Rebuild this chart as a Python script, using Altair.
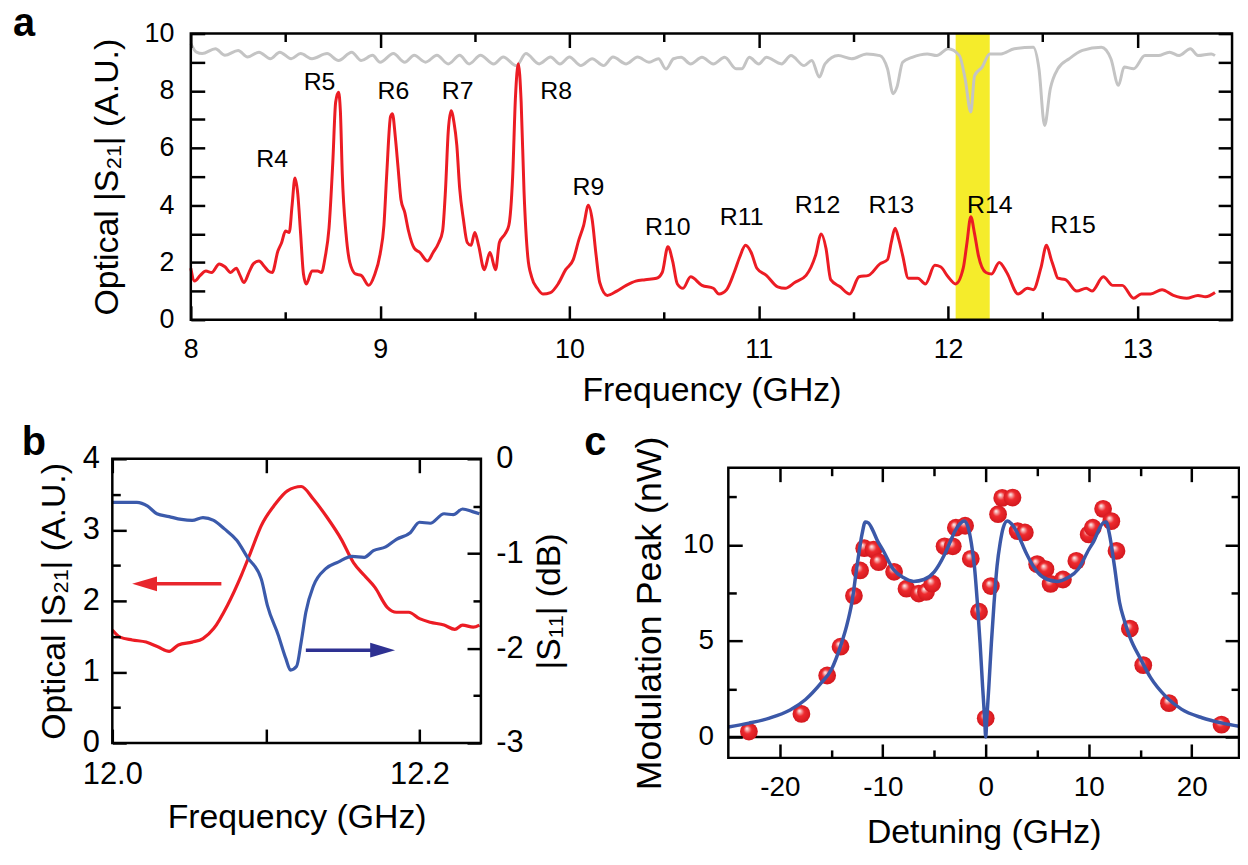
import altair as alt
import pandas as pd

FONT = "Liberation Sans"
RED = "#ec1c24"
GRAY = "#c4c4c4"
YELLOW = "#f5ec2b"
BLUE_B = "#3b5aab"
BLUE_C = "#3b58a8"
NAVY = "#2e3192"

# ---------------- Panel a data ----------------
a_red_f = [8.00, 8.02, 8.05, 8.08, 8.11, 8.15, 8.18, 8.21, 8.24, 8.26, 8.28, 8.31, 8.33, 8.36, 8.39,
           8.41, 8.43, 8.46, 8.48, 8.50, 8.52, 8.535, 8.55, 8.565, 8.58, 8.595, 8.61, 8.64, 8.67, 8.69,
           8.71, 8.73, 8.75, 8.765, 8.78, 8.79, 8.80, 8.82, 8.84, 8.87, 8.90, 8.94, 8.97, 9.00, 9.02,
           9.035, 9.055, 9.065, 9.08, 9.095, 9.11, 9.13, 9.15, 9.18, 9.21, 9.25, 9.28, 9.31, 9.33, 9.345,
           9.36, 9.375, 9.39, 9.405, 9.42, 9.44, 9.46, 9.48, 9.50, 9.52, 9.55, 9.58, 9.61, 9.63, 9.66,
           9.68, 9.70, 9.715, 9.73, 9.745, 9.76, 9.78, 9.80, 9.83, 9.86, 9.90, 9.94, 9.98, 10.02, 10.05,
           10.075, 10.10, 10.12, 10.14, 10.16, 10.20, 10.25, 10.30, 10.35, 10.40, 10.46, 10.49, 10.52, 10.545, 10.57,
           10.60, 10.64, 10.70, 10.76, 10.79, 10.83, 10.87, 10.90, 10.93, 10.96, 10.99, 11.04, 11.10, 11.14, 11.19,
           11.25, 11.30, 11.33, 11.355, 11.38, 11.43, 11.48, 11.53, 11.58, 11.64, 11.68, 11.70, 11.72, 11.74, 11.76,
           11.79, 11.84, 11.88, 11.93, 11.96, 12.00, 12.04, 12.08, 12.10, 12.12, 12.14, 12.16, 12.20, 12.23, 12.27,
           12.31, 12.37, 12.42, 12.45, 12.49, 12.52, 12.545, 12.56, 12.58, 12.62, 12.68, 12.73, 12.76, 12.82, 12.87,
           12.92, 12.98, 13.02, 13.07, 13.13, 13.19, 13.26, 13.32, 13.36, 13.41]
a_red_v = [1.8, 1.35, 1.55, 1.7, 1.65, 1.95, 1.85, 1.65, 1.8, 1.55, 1.3, 1.7, 1.95, 2.05, 1.85,
           1.7, 1.65, 2.4, 2.7, 3.1, 3.05, 4.0, 4.95, 4.4, 3.0, 1.6, 1.25, 1.7, 1.7, 1.65,
           2.2, 3.2, 5.5, 7.6, 7.95, 7.3, 5.1, 3.0, 2.0, 1.6, 1.55, 1.2, 1.55, 2.3, 3.3,
           5.1, 7.1, 7.2, 6.4, 5.3, 4.2, 3.75, 3.1, 2.5, 2.35, 2.05, 2.35, 2.7, 3.1, 4.5,
           6.6, 7.3, 6.9, 6.1, 4.6, 3.5, 2.7, 2.6, 3.05, 2.6, 1.75, 2.35, 1.75, 2.7, 3.0,
           3.3, 5.0, 7.8, 8.95, 7.6, 4.5, 2.2, 1.5, 1.1, 0.9, 0.95, 1.25, 1.75, 2.1, 2.8,
           3.3, 4.0, 3.5, 2.3, 1.3, 0.85, 1.0, 1.2, 1.35, 1.4, 1.45, 1.65, 2.55, 2.05, 1.25,
           1.1, 1.5, 1.2, 1.1, 0.9, 1.05, 1.65, 2.2, 2.6, 2.35, 1.8, 1.55, 1.15, 1.1, 1.3,
           1.55, 2.25, 3.0, 2.5, 1.4, 1.15, 0.9, 1.5, 1.55, 1.95, 2.1, 2.7, 3.2, 2.8, 2.25,
           1.45, 1.45, 1.25, 1.9, 1.85, 1.5, 1.25, 1.8, 2.7, 3.6, 3.0, 2.25, 1.65, 1.6, 2.0,
           1.65, 0.9, 1.1, 1.05, 1.8, 2.6, 2.1, 1.8, 1.45, 1.4, 1.0, 1.1, 1.0, 1.5, 1.2,
           1.2, 0.75, 0.9, 0.9, 1.05, 0.85, 0.75, 0.85, 0.8, 0.95]

a_gray_f = [8.0, 8.03, 8.06, 8.13, 8.18, 8.25, 8.3, 8.36, 8.42, 8.47, 8.53, 8.58, 8.64, 8.72, 8.78,
            8.85, 8.9, 8.96, 9.0, 9.07, 9.13, 9.18, 9.24, 9.3, 9.36, 9.42, 9.47, 9.53, 9.6, 9.65,
            9.72, 9.77, 9.84, 9.9, 9.95, 10.0, 10.06, 10.12, 10.18, 10.23, 10.3, 10.36, 10.42, 10.47, 10.51,
            10.55, 10.59, 10.64, 10.7, 10.76, 10.82, 10.88, 10.91, 10.95, 11.0, 11.04, 11.12, 11.17, 11.24, 11.28,
            11.32, 11.35, 11.42, 11.49, 11.57, 11.64, 11.68, 11.71, 11.73, 11.76, 11.81, 11.89, 11.94, 12.0, 12.06,
            12.09, 12.12, 12.14, 12.18, 12.22, 12.28, 12.35, 12.45, 12.48, 12.51, 12.54, 12.58, 12.64, 12.71, 12.81,
            12.86, 12.9, 12.93, 12.98, 13.04, 13.11, 13.17, 13.22, 13.28, 13.32, 13.39, 13.41]
a_gray_v = [9.65, 9.35, 9.3, 9.47, 9.24, 9.41, 9.18, 9.35, 9.12, 9.35, 9.12, 9.3, 9.12, 9.3, 9.06,
            9.35, 9.06, 9.24, 9.0, 9.3, 9.0, 9.24, 9.0, 9.24, 8.94, 9.24, 8.94, 9.24, 8.94, 9.18,
            8.88, 9.3, 8.94, 9.18, 8.94, 9.18, 8.88, 9.12, 8.88, 9.18, 8.94, 9.18, 9.0, 9.12, 8.76,
            9.12, 9.17, 8.94, 9.17, 8.94, 9.17, 8.77, 8.77, 9.17, 8.94, 9.17, 8.94, 9.23, 8.88, 9.06,
            8.48, 8.94, 9.23, 9.12, 9.29, 9.23, 8.77, 7.9, 8.13, 9.0, 9.17, 9.29, 9.23, 9.47, 9.23,
            8.42, 7.26, 8.53, 8.83, 9.29, 9.29, 9.47, 9.52, 8.77, 6.79, 8.07, 8.77, 9.12, 9.41, 9.52,
            9.12, 8.19, 8.83, 8.77, 9.23, 9.23, 9.35, 9.23, 9.47, 9.23, 9.29, 9.23]

a_dom_f = [8, 13.5]
a_dom_v = [0, 10]
a_band_f = [12.04, 12.22]
a_lab_text = ["R4", "R5", "R6", "R7", "R8", "R9", "R10", "R11", "R12", "R13", "R14", "R15"]
a_lab_f = [8.43, 8.68, 9.07, 9.41, 9.93, 10.10, 10.52, 10.91, 11.31, 11.70, 12.22, 12.66]
a_lab_v = [5.6, 8.3, 8.0, 8.0, 8.0, 4.65, 3.25, 3.6, 4.0, 4.0, 4.0, 3.3]
a_letter = {"t": "a", "f": 7.061, "v": 9.93}
a_xt_major = [8, 9, 10, 11, 12, 13]
a_xt_minor = [8.5, 9.5, 10.5, 11.5, 12.5]
a_yt = [0, 1, 2, 3, 4, 5, 6, 7, 8, 9, 10]

# ---------------- Panel b data ----------------
b_red_f = [12.0, 12.005, 12.013, 12.022, 12.03, 12.037, 12.043, 12.052, 12.059, 12.066, 12.075, 12.084,
           12.09, 12.097, 12.106, 12.114, 12.123, 12.131, 12.14, 12.149, 12.157, 12.164, 12.171, 12.179,
           12.185, 12.193, 12.2, 12.207, 12.216, 12.223, 12.228, 12.235, 12.239]
b_red_v = [1.59, 1.49, 1.45, 1.42, 1.35, 1.29, 1.38, 1.42, 1.47, 1.61, 1.94, 2.36,
           2.68, 3.06, 3.36, 3.55, 3.61, 3.43, 3.17, 2.87, 2.54, 2.36, 2.19, 1.91,
           1.84, 1.84, 1.75, 1.70, 1.66, 1.60, 1.66, 1.63, 1.66]
b_blue_f = [12.0, 12.016, 12.023, 12.029, 12.037, 12.045, 12.052, 12.059, 12.066, 12.073, 12.081, 12.088,
            12.097, 12.101, 12.108, 12.113, 12.116, 12.12, 12.123, 12.126, 12.131, 12.139, 12.147, 12.156,
            12.164, 12.17, 12.178, 12.185, 12.194, 12.2, 12.207, 12.216, 12.222, 12.228, 12.235, 12.239]
b_blue_v = [-0.46, -0.46, -0.50, -0.58, -0.61, -0.64, -0.65, -0.62, -0.65, -0.74, -0.86, -1.04,
            -1.27, -1.55, -1.86, -2.11, -2.23, -2.19, -1.93, -1.62, -1.34, -1.16, -1.09, -1.03,
            -1.04, -0.97, -0.93, -0.85, -0.78, -0.67, -0.68, -0.58, -0.59, -0.53, -0.56, -0.58]
b_dom_f = [12.0, 12.24]
b_dom_l = [0, 4]
b_dom_r = [-3, 0]
b_arrow_red = {"tail": 12.071, "head": 12.021, "y": 2.24}     # left-axis units
b_arrow_blue = {"tail": 12.126, "head": 12.176, "y": -2.02}   # right-axis units
b_letter = {"t": "b", "f": 11.9411, "v": 4.056}
b_xt = [12.0, 12.1, 12.2]
b_yl_major = [0, 1, 2, 3, 4]
b_yl_minor = [0.5, 1.5, 2.5, 3.5]
b_yr_major = [0, -1, -2, -3]
b_yr_minor = [-0.5, -1.5, -2.5]

# ---------------- Panel c data ----------------
c_dot_x = [-23.0, -17.9, -15.4, -14.1, -12.8, -12.2, -11.8, -10.9, -10.4, -8.9, -7.7, -6.5, -5.8, -5.2,
           -4.0, -3.2, -2.9, -2.0, -1.45, -0.65, 0.0, 0.5, 1.2, 1.6, 2.6, 3.1, 3.8, 5.0, 5.8, 6.3,
           7.5, 8.8, 10.0, 10.4, 11.4, 12.2, 12.7, 14.0, 15.3, 17.8, 22.9]
c_dot_y = [0.28, 1.2, 3.2, 4.7, 7.35, 8.67, 9.83, 9.76, 9.1, 8.6, 7.72, 7.47, 7.55, 7.98,
           9.93, 9.93, 10.9, 11.0, 9.28, 6.52, 0.97, 7.86, 11.6, 12.45, 12.47, 10.72, 10.65, 9.0, 8.74, 7.97,
           8.2, 9.17, 10.55, 10.9, 11.88, 11.24, 9.69, 5.64, 3.74, 1.76, 0.64]
c_fit_x = [-25, -23, -21, -19, -17.5, -16, -15, -14, -13.5, -13, -12.5, -12, -11.7, -11.4, -11, -10.5,
           -10, -9, -8, -7, -6, -5, -4, -3.5, -3, -2.5, -2.1, -1.7, -1.4, -1.1, -0.8, -0.55, -0.3, -0.1,
           0, 0.1, 0.3, 0.55, 0.8, 1.1, 1.4, 1.7, 2.1, 2.5, 3, 3.5, 4, 5, 6, 7, 8, 9, 10, 10.5, 11,
           11.4, 11.7, 12, 12.5, 13, 13.5, 14, 15, 16, 17.5, 19, 21, 23, 24.6]
c_fit_y = [0.52, 0.72, 0.98, 1.4, 1.95, 2.8, 3.5, 4.9, 5.8, 7.0, 8.9, 10.6, 11.2, 11.15, 10.8, 10.2,
           9.75, 8.75, 8.3, 8.1, 8.2, 8.6, 9.5, 10.1, 10.7, 11.1, 11.25, 10.9, 10.1, 8.9, 6.9, 4.9, 2.6, 0.9,
           0.0, 0.9, 2.6, 4.9, 6.9, 8.9, 10.1, 10.9, 11.25, 11.1, 10.7, 10.1, 9.5, 8.6, 8.2, 8.1, 8.3, 8.75, 9.75, 10.2, 10.8,
           11.15, 11.2, 10.6, 8.9, 7.0, 6.0, 5.2, 4.1, 3.1, 2.1, 1.45, 1.0, 0.72, 0.56]
c_dom_x = [-25, 24.6]
c_dom_y = [-1.09, 14.02]
c_letter = {"t": "c", "x": -38.99, "y": 14.70}
c_xt_major = [-20, -10, 0, 10, 20]
c_xt_minor = [-15, -5, 5, 15]
c_yt_major = [0, 5, 10]
c_yt_minor = [2.5, 7.5, 12.5]

# ---------------- layout (pixels inside the single view) ----------------
W, H = 1240, 845
MAJ, MIN = 14, 8
A_X, A_Y = [184, 1232], [311, 23]
B_X, B_Y = [105, 476], [737, 451]
C_X, C_Y = [725, 1239], [752, 460]


def axis(orient, box, values, size=MAJ, label_expr=None, label_size=27, label_pad=16,
         title=None, title_size=34, title_pad=10, **extra):
    px, py = box
    off = {"bottom": (py[0] - size) - H, "top": -(py[1] + size),
           "left": -(px[0] + size), "right": (px[1] - size) - W}[orient]
    kw = dict(orient=orient, values=values, tickSize=size, offset=off, ticks=True,
              domain=False, grid=False, labelFlush=False, labelOverlap=False,
              tickWidth=2.5, tickColor="black", tickOpacity=1, zindex=2)
    if label_expr is not None:
        kw.update(labels=True, labelExpr=label_expr, labelFontSize=label_size,
                  labelPadding=label_pad + (MAJ - size), labelFont=FONT, labelColor="black")
    else:
        kw.update(labels=False)
    if title is not None:
        kw.update(title=title, titleFontSize=title_size, titlePadding=title_pad,
                  titleFont=FONT, titleFontWeight="normal", titleColor="black")
    else:
        kw.update(title=None)
    kw.update(extra)
    return alt.Axis(**kw)


def sc(domain, rng):
    return alt.Scale(domain=domain, range=rng, nice=False, zero=False)


def X(field, scale, ax=None):
    return alt.X(field, scale=scale, axis=ax)


def Y(field, scale, ax=None):
    return alt.Y(field, scale=scale, axis=ax)


def frame(dx, dy, xs, ys, xax=None, yax=None):
    df = pd.DataFrame({"x0": [dx[0]], "x1": [dx[1]], "y0": [dy[0]], "y1": [dy[1]]})
    return alt.Chart(df).mark_rect(fillOpacity=0, stroke="black", strokeWidth=2.5).encode(
        x=X("x0:Q", xs, xax), x2="x1:Q", y=Y("y0:Q", ys, yax), y2="y1:Q")


def letter(d, xf, yf, xs, ys):
    df = pd.DataFrame({"t": [d["t"]], "x": [d[xf]], "y": [d[yf]]})
    return alt.Chart(df).mark_text(fontSize=40, fontWeight="bold", font=FONT, align="left",
                                   baseline="alphabetic", color="black").encode(
        x=X("x:Q", xs), y=Y("y:Q", ys), text="t:N")


layers = []
BOX_A, BOX_B, BOX_C = (A_X, A_Y), (B_X, B_Y), (C_X, C_Y)

# ---------------- Panel a ----------------
xa = sc(a_dom_f, A_X)
ya = sc(a_dom_v, A_Y)
layers.append(alt.Chart(pd.DataFrame({"f0": [a_band_f[0]], "f1": [a_band_f[1]],
                                      "v0": [a_dom_v[0]], "v1": [a_dom_v[1]]})).mark_rect(
    color=YELLOW, opacity=1).encode(
    x=X("f0:Q", xa, axis("top", BOX_A, a_xt_minor, size=MIN)), x2="f1:Q",
    y=Y("v0:Q", ya), y2="v1:Q"))
layers.append(alt.Chart(pd.DataFrame({"f": a_gray_f, "v": a_gray_v})).mark_line(
    color=GRAY, strokeWidth=3, interpolate="monotone").encode(
    x=X("f:Q", xa, axis("top", BOX_A, a_xt_major)),
    y=Y("v:Q", ya, axis("right", BOX_A, a_yt))))
layers.append(alt.Chart(pd.DataFrame({"f": a_red_f, "v": a_red_v})).mark_line(
    color=RED, strokeWidth=3, interpolate="monotone").encode(
    x=X("f:Q", xa, axis("bottom", BOX_A, a_xt_major, label_expr="'' + datum.value",
                        label_size=27, label_pad=17, title="Frequency (GHz)", title_pad=11)),
    y=Y("v:Q", ya, axis("left", BOX_A, a_yt,
                        label_expr="datum.value % 2 === 0 ? '' + datum.value : ''",
                        label_size=27, label_pad=17, title="Optical |S₂₁| (A.U.)",
                        title_pad=20))))
layers.append(alt.Chart(pd.DataFrame({"t": a_lab_text, "f": a_lab_f, "v": a_lab_v})).mark_text(
    fontSize=25, font=FONT, color="black").encode(x=X("f:Q", xa), y=Y("v:Q", ya), text="t:N"))
layers.append(frame(a_dom_f, a_dom_v, xa, ya,
                    xax=axis("bottom", BOX_A, a_xt_minor, size=MIN)))
layers.append(letter(a_letter, "f", "v", xa, ya))

# ---------------- Panel b ----------------
xb = sc(b_dom_f, B_X)
ybl = sc(b_dom_l, B_Y)
ybr = sc(b_dom_r, B_Y)
layers.append(alt.Chart(pd.DataFrame({"f": b_red_f, "v": b_red_v})).mark_line(
    color=RED, strokeWidth=3.2, interpolate="monotone").encode(
    x=X("f:Q", xb, axis("bottom", BOX_B, b_xt,
                        label_expr="datum.value === 12.1 ? '' : format(datum.value, '.1f')",
                        label_size=31, label_pad=17, title="Frequency (GHz)", title_pad=11)),
    y=Y("v:Q", ybl, axis("left", BOX_B, b_yl_major, label_expr="'' + datum.value",
                         label_size=31, label_pad=13, title="Optical |S₂₁| (A.U.)",
                         title_pad=11))))
layers.append(alt.Chart(pd.DataFrame({"f": b_blue_f, "v": b_blue_v})).mark_line(
    color=BLUE_B, strokeWidth=3.2, interpolate="monotone").encode(
    x=X("f:Q", xb, axis("top", BOX_B, b_xt)),
    y=Y("v:Q", ybr, axis("right", BOX_B, b_yr_major, label_expr="'' + datum.value",
                         label_size=31, label_pad=15, title="|S₁₁| (dB)", title_pad=10,
                         titleAngle=270, titleBaseline="top"))))

for d, color, shape, ys, yax in [
        (b_arrow_red, "#e8262d", "M-1,0L1,-0.6L1,0.6Z", ybl, None),
        (b_arrow_blue, NAVY, "M1,0L-1,-0.6L-1,0.6Z", ybr,
         axis("right", BOX_B, b_yr_minor, size=MIN))]:
    df = pd.DataFrame({"t": [d["tail"]], "h": [d["head"]], "y": [d["y"]]})
    layers.append(alt.Chart(df).mark_rule(color=color, strokeWidth=3.5).encode(
        x=X("t:Q", xb), x2="h:Q", y=Y("y:Q", ys, yax)))
    layers.append(alt.Chart(df).mark_point(shape=shape, filled=True, size=625, color=color,
                                           opacity=1, strokeWidth=0).encode(
        x=X("h:Q", xb), y=Y("y:Q", ys)))
layers.append(frame(b_dom_f, b_dom_l, xb, ybl,
                    yax=axis("left", BOX_B, b_yl_minor, size=MIN)))
layers.append(letter(b_letter, "f", "v", xb, ybl))

# ---------------- Panel c ----------------
xc = sc(c_dom_x, C_X)
yc = sc(c_dom_y, C_Y)
sphere = alt.RadialGradient(
    gradient="radial", x1=0.38, y1=0.32, r1=0.0, x2=0.5, y2=0.5, r2=0.55,
    stops=[alt.GradientStop(offset=0.0, color="#ffffff"),
           alt.GradientStop(offset=0.15, color="#f6b3b3"),
           alt.GradientStop(offset=0.42, color="#ee2a2e"),
           alt.GradientStop(offset=1.0, color="#cf151c")])
layers.append(alt.Chart(pd.DataFrame({"x0": [c_dom_x[0]], "x1": [c_dom_x[1]], "z": [0]})).mark_rule(
    color="black", strokeWidth=2.5).encode(
    x=X("x0:Q", xc, axis("top", BOX_C, c_xt_minor, size=MIN)), x2="x1:Q",
    y=Y("z:Q", yc, axis("right", BOX_C, c_yt_minor, size=MIN))))
layers.append(alt.Chart(pd.DataFrame({"x": c_dot_x, "y": c_dot_y})).mark_circle(
    size=320, opacity=1, fill=sphere).encode(
    x=X("x:Q", xc, axis("bottom", BOX_C, c_xt_major, label_expr="'' + datum.value",
                        label_size=28, label_pad=16, title="Detuning (GHz)", title_pad=14)),
    y=Y("y:Q", yc, axis("left", BOX_C, c_yt_major, label_expr="'' + datum.value",
                        label_size=28, label_pad=15, title="Modulation Peak (nW)",
                        title_size=36, title_pad=14))))
layers.append(alt.Chart(pd.DataFrame({"x": c_fit_x, "y": c_fit_y})).mark_line(
    color=BLUE_C, strokeWidth=3.5, interpolate="monotone").encode(
    x=X("x:Q", xc, axis("top", BOX_C, c_xt_major)),
    y=Y("y:Q", yc, axis("right", BOX_C, c_yt_major))))
layers.append(frame(c_dom_x, c_dom_y, xc, yc,
                    xax=axis("bottom", BOX_C, c_xt_minor, size=MIN),
                    yax=axis("left", BOX_C, c_yt_minor, size=MIN)))
layers.append(letter(c_letter, "x", "y", xc, yc))

chart = alt.layer(*layers).resolve_scale(x="independent", y="independent").resolve_axis(
    x="independent", y="independent").properties(
    width=W, height=H, padding=0, autosize=alt.AutoSizeParams(type="none")).configure(
    font=FONT).configure_view(stroke="transparent")

chart.save("out.html", embed_options={"renderer": "svg", "actions": False})
